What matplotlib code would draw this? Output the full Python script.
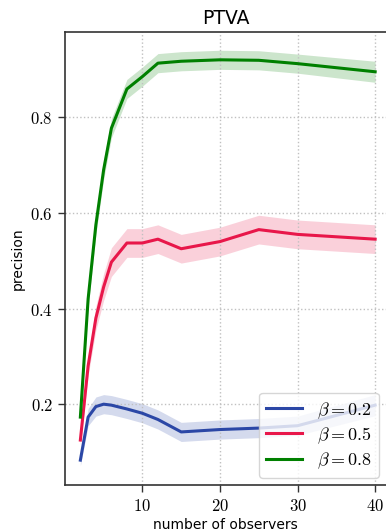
import matplotlib
matplotlib.use('Agg')
import matplotlib.pyplot as plt
from matplotlib.ticker import FuncFormatter

# observers on the x axis
n_obs = [2, 3, 4, 5, 6, 8, 10, 12, 15, 20, 25, 30, 40]

# mean precision for each beta
prec_02 = [0.083, 0.173, 0.195, 0.200, 0.198, 0.190, 0.181, 0.168, 0.142, 0.147, 0.150, 0.155, 0.198]
prec_05 = [0.125, 0.280, 0.380, 0.445, 0.497, 0.537, 0.537, 0.545, 0.525, 0.540, 0.565, 0.555, 0.545]
prec_08 = [0.173, 0.420, 0.575, 0.690, 0.777, 0.859, 0.885, 0.913, 0.917, 0.920, 0.919, 0.912, 0.895]

# half width of the shaded band
band_02 = [0.012, 0.018, 0.020, 0.020, 0.020, 0.020, 0.020, 0.020, 0.020, 0.020, 0.020, 0.020, 0.022]
band_05 = [0.010, 0.020, 0.025, 0.028, 0.030, 0.030, 0.030, 0.030, 0.030, 0.030, 0.030, 0.030, 0.030]
band_08 = [0.010, 0.018, 0.020, 0.020, 0.020, 0.020, 0.020, 0.020, 0.020, 0.020, 0.020, 0.020, 0.022]

labels = [r'$\beta = 0.2$', r'$\beta = 0.5$', r'$\beta = 0.8$']
colors = ['#2b47a6', '#e8174a', '#008000']

plt.rcParams['mathtext.fontset'] = 'cm'

fig = plt.figure(figsize=(3.86, 5.31), dpi=100)
ax = fig.add_axes([0.168, 0.0866, 0.832, 0.853])

for y, b, lab, c in zip([prec_02, prec_05, prec_08], [band_02, band_05, band_08], labels, colors):
    lo = [v - w for v, w in zip(y, b)]
    hi = [v + w for v, w in zip(y, b)]
    ax.fill_between(n_obs, lo, hi, color=c, alpha=0.2, linewidth=0)
    ax.plot(n_obs, y, color=c, linewidth=2.2, label=lab)

ax.set_xlim(0, 41.4)
ax.set_ylim(0.031, 0.978)
ax.set_xticks([10, 20, 30, 40])
ax.set_yticks([0.2, 0.4, 0.6, 0.8])
ax.xaxis.set_major_formatter(FuncFormatter(lambda v, p: r'$%d$' % v))
ax.yaxis.set_major_formatter(FuncFormatter(lambda v, p: r'$%.1f$' % v))
ax.tick_params(labelsize=12, length=5, width=1, color='#333333')
ax.grid(True, linestyle=':', color='#c0c0c0', linewidth=1)
ax.spines['right'].set_visible(False)
for s in ['left', 'top', 'bottom']:
    ax.spines[s].set_color('#333333')
    ax.spines[s].set_linewidth(1.2)

ax.set_xlabel('number of observers', fontsize=10, labelpad=2)
ax.set_ylabel('precision', fontsize=10)
ax.set_title('PTVA', fontsize=13.5)
ax.legend(loc='lower right', fontsize=13, handlelength=2.0, labelspacing=0.25,
          borderaxespad=0.4)

plt.savefig('out.png', dpi=100)
